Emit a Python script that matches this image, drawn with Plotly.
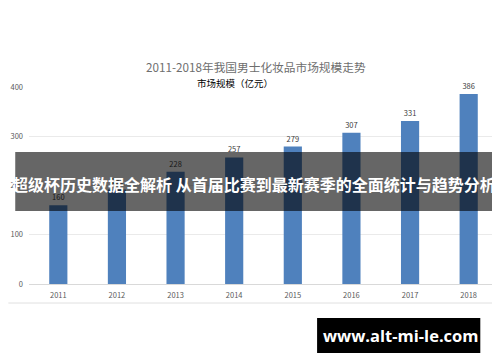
import plotly.graph_objects as go

years = ["2011", "2012", "2013", "2014", "2015", "2016", "2017", "2018"]
market_size = [160, 192, 228, 257, 279, 307, 331, 386]
y_ticks = [0, 100, 200, 300, 400]

title_text = "2011-2018年我国男士化妆品市场规模走势"
subtitle_text = "市场规模（亿元）"
banner_text = "超级杯历史数据全解析 从首届比赛到最新赛季的全面统计与趋势分析"
watermark_text = "www.alt-mi-le.com"

FONT = "Noto Sans CJK SC, Noto Sans, sans-serif"

# page body has an 8px margin; figure sized so it fills the visible window
OFF = 8
FW, FH = 500 - OFF, 362 - OFF
L, R, T, B = 21 - OFF, FW - (498 - OFF), 87 - OFF, FH - (284 - OFF)

fig = go.Figure()
fig.add_trace(go.Bar(
    x=years, y=market_size,
    marker=dict(color="#4F81BD", line=dict(width=0)),
    width=0.31,
    text=[str(v) for v in market_size],
    textposition="outside",
    textfont=dict(size=7.5, color="#404040", family=FONT),
    cliponaxis=False,
))

fig.update_layout(
    width=FW, height=FH,
    margin=dict(l=L, r=R, t=T, b=B, pad=0),
    paper_bgcolor="white", plot_bgcolor="white",
    showlegend=False,
    font=dict(family=FONT),
    xaxis=dict(
        type="category", showgrid=False, showline=True, linecolor="#D9D9D9", linewidth=1,
        ticks="", tickfont=dict(size=7.5, color="#595959"), ticklabelstandoff=4,
        range=[-0.5, 7.5],
    ),
    yaxis=dict(
        range=[0, 400], tickvals=y_ticks, showgrid=True, gridcolor="#EAEAEA", gridwidth=1,
        zeroline=False, showline=False, ticks="",
        tickfont=dict(size=7.5, color="#595959"), ticklabelstandoff=5,
    ),
)

W_PLOT = FW - L - R
H_PLOT = FH - T - B
def px(xw):
    return (xw - OFF - L) / W_PLOT
def py(yw):
    return (FH - B - (yw - OFF)) / H_PLOT

# Titles
fig.add_annotation(text=title_text, xref="paper", yref="paper", x=px(252), y=py(67),
                   showarrow=False, xanchor="center", yanchor="middle",
                   font=dict(size=11.7, color="#6E6E6E", family=FONT))
fig.add_annotation(text=subtitle_text, xref="paper", yref="paper", x=px(231), y=py(82.5),
                   showarrow=False, xanchor="center", yanchor="middle",
                   font=dict(size=9.5, color="#000000", family=FONT))

# bottom border line of chart
fig.add_shape(type="line", xref="paper", yref="paper", x0=px(0), x1=px(500),
              y0=py(303), y1=py(303), line=dict(color="#E0E0E0", width=1))

# Banner overlay
fig.add_shape(type="rect", xref="paper", yref="paper",
              x0=px(7), x1=px(493), y0=py(211), y1=py(152),
              fillcolor="rgba(0,0,0,0.6)", line=dict(width=0), layer="above")
fig.add_annotation(text="<b>" + banner_text + "</b>", xref="paper", yref="paper",
                   x=px(250), y=py(184), showarrow=False, xanchor="center", yanchor="middle",
                   font=dict(size=16, color="white", family=FONT))

# Watermark
fig.add_shape(type="rect", xref="paper", yref="paper",
              x0=px(314), x1=px(480), y0=py(353), y1=py(318),
              fillcolor="black", line=dict(width=0), layer="above")
fig.add_annotation(text="<b>" + watermark_text + "</b>", xref="paper", yref="paper",
                   x=px(399), y=py(335.5), showarrow=False, xanchor="center", yanchor="middle",
                   font=dict(size=16.5, color="white", family="Open Sans, Noto Sans, sans-serif"))

fig.write_html("out.html")
